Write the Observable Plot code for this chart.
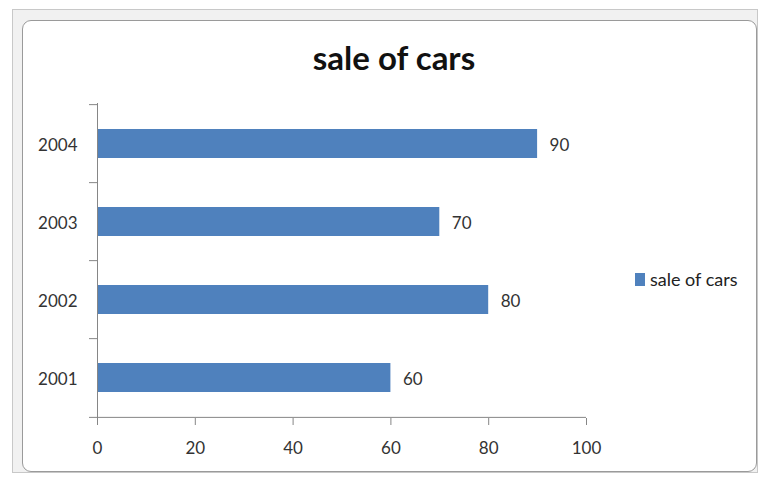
<!DOCTYPE html>
<html>
<head>
<meta charset="utf-8">
<script src="https://cdn.jsdelivr.net/npm/d3@7"></script>
<script src="https://cdn.jsdelivr.net/npm/@observablehq/plot@0.6"></script>
<style>
  html, body { margin: 0; padding: 0; background: #ffffff; }
  #wrap { position: relative; width: 761px; height: 478px; overflow: hidden; background: #ffffff; font-family: Lato, "Noto Sans", sans-serif; }
  #outer { position: absolute; left: 12px; top: 9px; width: 746px; height: 464px; background: #f1f1f1; border: 1px solid #c8c8c8; box-sizing: border-box; }
  #frame { position: absolute; left: 22px; top: 20px; width: 735px; height: 452px; background: #ffffff; border: 1px solid #9a9a9a; border-radius: 9px; box-sizing: border-box; }
  #title { position: absolute; left: 0; width: 788px; top: 37px; text-align: center; font-size: 33px; font-weight: 700; color: #111; }
  #chart { position: absolute; left: 0; top: 0; }
  #legend { position: absolute; left: 635px; top: 268px; font-size: 18px; color: #222; display: flex; align-items: center; }
  #legend .sw { width: 10px; height: 13px; background: #4f81bd; margin-right: 5px; }
</style>
</head>
<body>
<div id="wrap">
  <div id="outer"></div>
  <div id="frame"></div>
  <div id="title">sale of cars</div>
  <div id="chart"></div>
  <div id="legend"><span class="sw"></span><span>sale of cars</span></div>
</div>
<script>
const years = ["2001", "2002", "2003", "2004"];
const sales = [60, 80, 70, 90];
const xTicks = [0, 20, 40, 60, 80, 100];
const seriesName = "sale of cars";

const data = years.map((y, i) => ({year: y, sales: sales[i]}));

const W = 761, H = 478;
const mL = 97, mR = 175, mT = 103, mB = 60;
const bw = (H - mT - mB) / years.length;
const axisColor = "#868686";

const chart = Plot.plot({
  width: W,
  height: H,
  marginLeft: mL,
  marginRight: mR,
  marginTop: mT,
  marginBottom: mB,
  style: {background: "transparent", fontFamily: "Lato, 'Noto Sans', sans-serif", fontSize: "17px", color: "#333", overflow: "visible"},
  x: {domain: [0, 100], ticks: xTicks},
  y: {domain: years.slice().reverse(), paddingInner: 0.63, paddingOuter: 0.315},
  marks: [
    Plot.barX(data, {x: "sales", y: "year", fill: "#4f81bd"}),
    Plot.ruleX([0], {stroke: axisColor}),
    Plot.ruleY(years, {y: d => d, dy: -bw / 2, x1: 0, x2: 0, insetLeft: -8, stroke: axisColor}),
    Plot.ruleY([years[0]], {y: d => d, dy: bw / 2, x1: 0, x2: 100, insetLeft: -8, stroke: axisColor}),
    Plot.axisX({ticks: xTicks, tickSize: 7, tickPadding: 16, label: null, stroke: axisColor, fill: "#333", fontSize: 17}),
    Plot.axisY({tickSize: 0, tickPadding: 20, label: null, fill: "#333", fontSize: 17, dy: 2}),
    Plot.text(data, {x: "sales", y: "year", text: d => String(d.sales), dx: 12, dy: 2, textAnchor: "start", fill: "#333", fontSize: 17})
  ]
});
document.getElementById("chart").appendChild(chart);
</script>
</body>
</html>
